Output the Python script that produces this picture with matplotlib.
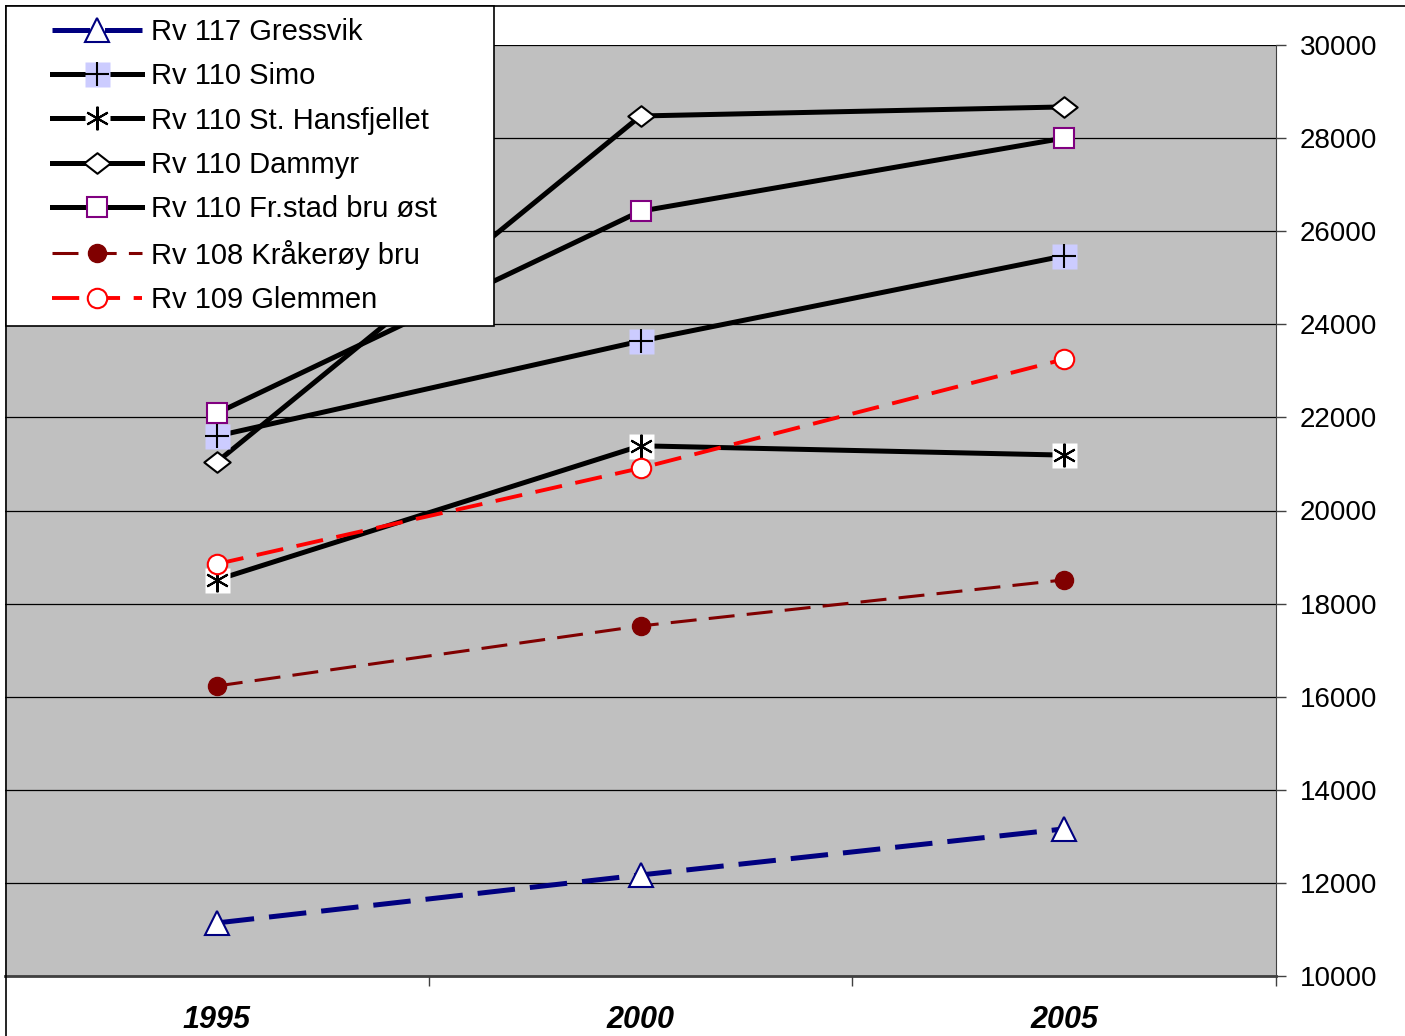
import numpy as np
import matplotlib.pyplot as plt
from matplotlib.lines import Line2D
from matplotlib.patches import Rectangle
from matplotlib.path import Path

plt.rcParams['font.family'] = ['Liberation Sans', 'DejaVu Sans']

years = ['1995', '2000', '2005']
gressvik = [11140, 12170, 13160]
simo = [21600, 23640, 25470]
hansfjellet = [18510, 21390, 21190]
dammyr = [21040, 28475, 28670]
frstad = [22090, 26430, 28000]
kraakeroy = [16230, 17520, 18510]
glemmen = [18850, 20910, 23250]

labels = ['Rv 117 Gressvik', 'Rv 110 Simo', 'Rv 110 St. Hansfjellet', 'Rv 110 Dammyr',
          'Rv 110 Fr.stad bru øst', 'Rv 108 Kråkerøy bru', 'Rv 109 Glemmen']

W, H = 1405, 1036
fig = plt.figure(figsize=(W / 100, H / 100), dpi=100)
ax = fig.add_axes([5 / W, 60 / H, 1271 / W, 931 / H])
ax.set_facecolor('#c0c0c0')
x = np.arange(len(years))

flat_diamond = Path([(-1, 0), (0, 0.78), (1, 0), (0, -0.78), (-1, 0)],
                    [Path.MOVETO, Path.LINETO, Path.LINETO, Path.LINETO, Path.CLOSEPOLY])

h_gress, = ax.plot(x, gressvik, color='#000080', lw=3.6, dashes=(7.5, 3),
                   marker='^', ms=17, mfc='white', mec='#000080', mew=1.5, zorder=3)
h_kraak, = ax.plot(x, kraakeroy, color='#800000', lw=2.2, dashes=(8.5, 4),
                   marker='o', ms=13, mfc='#800000', mec='#800000', zorder=3)

# Simo: plus on lavender square
h_simo_l, = ax.plot(x, simo, color='black', lw=3.6, zorder=3)
h_simo_b, = ax.plot(x, simo, ls='none', marker='s', ms=18, mfc='#ccccff', mec='none', zorder=4)
h_simo_p, = ax.plot(x, simo, ls='none', marker='+', ms=17, mec='black', mew=1.5, zorder=4)

# St. Hansfjellet: asterisk on white square
h_hans_l, = ax.plot(x, hansfjellet, color='black', lw=3.6, zorder=3)
h_hans_b, = ax.plot(x, hansfjellet, ls='none', marker='s', ms=18, mfc='white', mec='none', zorder=4)
h_hans_p, = ax.plot(x, hansfjellet, ls='none', marker=(6, 2, 0), ms=17, mec='black', mew=1.5, zorder=4)

h_damm, = ax.plot(x, dammyr, color='black', lw=3.6, marker=flat_diamond, ms=19,
                  mfc='white', mec='black', mew=1.5, zorder=3)
h_frst, = ax.plot(x, frstad, color='black', lw=3.6, marker='s', ms=15,
                  mfc='white', mec='#800080', mew=1.5, zorder=3)
h_glem, = ax.plot(x, glemmen, color='#ff0000', lw=2.8, dashes=(7, 3.5),
                  marker='o', ms=14, mfc='white', mec='#ff0000', mew=1.5, zorder=5)

ax.set_xlim(-0.5, 2.5)
ax.set_ylim(10000, 30000)
ax.set_yticks(np.arange(10000, 30001, 2000))
ax.yaxis.tick_right()
ax.tick_params(axis='y', labelsize=20, length=7, width=1, color='#404040', pad=10)
ax.grid(axis='y', color='black', lw=0.9)
ax.set_axisbelow(True)

ax.set_xticks(x)
ax.set_xticklabels(years, fontsize=22, fontweight='bold', fontstyle='italic',
                   family=['Liberation Sans Narrow', 'Liberation Sans'])
ax.set_xticks([0.5, 1.5, 2.5], minor=True)
ax.tick_params(axis='x', which='major', length=0, pad=21)
ax.tick_params(axis='x', which='minor', length=7, width=1, color='#404040')

for s in ['top', 'left']:
    ax.spines[s].set_visible(False)
ax.spines['right'].set_color('#404040')
ax.spines['bottom'].set_color('#404040')
ax.spines['bottom'].set_linewidth(2)

# outer chart border (top and left)
fig.add_artist(Line2D([6 / W, 1], [1 - 6 / H, 1 - 6 / H], color='black', lw=1.2))
fig.add_artist(Line2D([6 / W, 6 / W], [0, 1 - 6 / H], color='black', lw=1.2))

# legend box
fig.add_artist(Rectangle((6 / W, 1 - 326 / H), 488 / W, 320 / H, facecolor='white',
                         edgecolor='black', lw=1.2, zorder=6))
handles = [h_gress, (h_simo_l, h_simo_b, h_simo_p), (h_hans_l, h_hans_b, h_hans_p),
           h_damm, h_frst, h_kraak, h_glem]
leg = fig.legend(handles, labels, loc='upper left', bbox_to_anchor=(52 / W, 1 - 18 / H),
                 frameon=False, fontsize=21, handlelength=3.1, handletextpad=0.3,
                 labelspacing=0.56, borderpad=0, borderaxespad=0, markerscale=1)
leg.set_zorder(7)

fig.savefig('out.png', dpi=100)
